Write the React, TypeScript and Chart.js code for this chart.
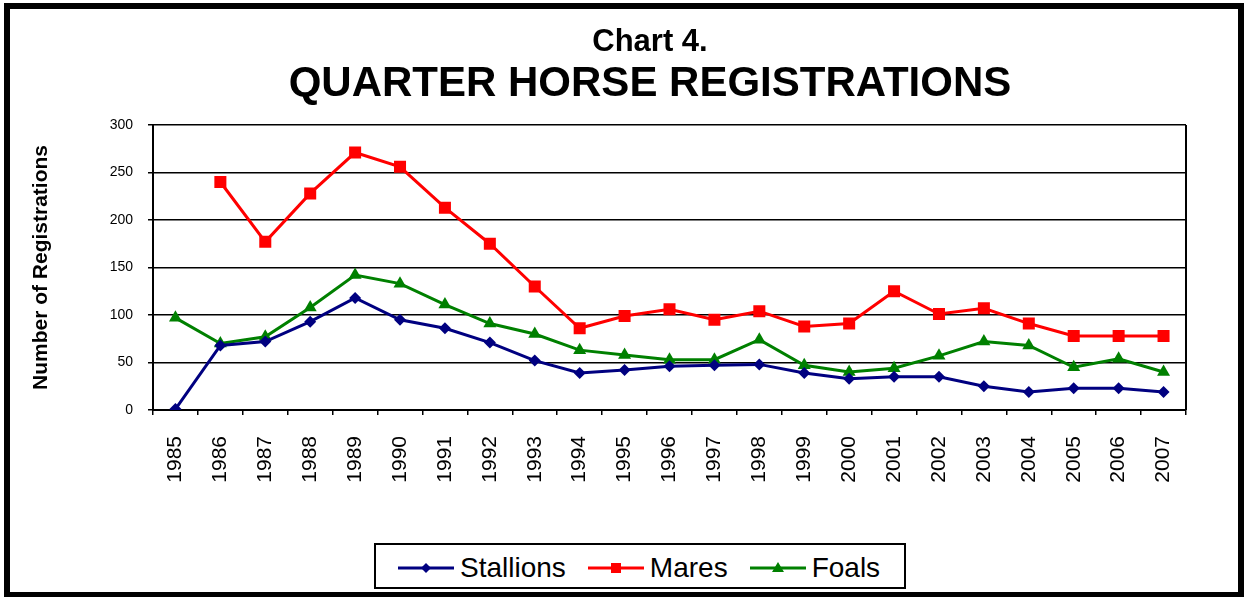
import React, { useEffect, useRef } from "react";
import { Chart, registerables } from "chart.js";

Chart.register(...registerables);

const years = [
  "1985", "1986", "1987", "1988", "1989", "1990", "1991", "1992", "1993", "1994", "1995", "1996",
  "1997", "1998", "1999", "2000", "2001", "2002", "2003", "2004", "2005", "2006", "2007",
];
const stallions = [1, 68, 72, 93, 118, 95, 86, 71, 52, 39, 42, 46, 47, 48, 39, 33, 35, 35, 25, 19, 23, 23, 19];
const mares = [null, 240, 177, 228, 271, 256, 213, 175, 130, 86, 99, 106, 95, 104, 88, 91, 125, 101, 107, 91, 78, 78, 78];
const foals = [97, 70, 77, 108, 142, 133, 111, 91, 80, 63, 58, 53, 53, 74, 47, 40, 44, 57, 72, 68, 45, 54, 40];
const yTicks = [0, 50, 100, 150, 200, 250, 300];

const titleLine1 = "Chart 4.";
const titleLine2 = "QUARTER HORSE REGISTRATIONS";
const yTitle = "Number of Registrations";

const FONT = "'Liberation Sans', Arial, Helvetica, sans-serif";

const seriesStyle = [
  { label: "Stallions", data: stallions, color: "#000080", pointStyle: "rectRot", radius: 6 },
  { label: "Mares", data: mares, color: "#FF0000", pointStyle: "rect", radius: 8.5 },
  { label: "Foals", data: foals, color: "#008000", pointStyle: "triangle", radius: 7.5 },
];

const framePlugin = {
  id: "plotFrame",
  afterDatasetsDraw(chart: any) {
    const { ctx, chartArea: a } = chart;
    ctx.save();
    ctx.strokeStyle = "#000";
    ctx.lineWidth = 2;
    ctx.beginPath();
    ctx.moveTo(a.right, a.top);
    ctx.lineTo(a.right, a.bottom);
    ctx.stroke();
    ctx.restore();
  },
};

function LegendSymbol({ color, shape }: { color: string; shape: string }) {
  let marker: any = null;
  if (shape === "rectRot") {
    marker = <polygon points="28,5 33,10 28,15 23,10" fill={color} />;
  } else if (shape === "rect") {
    marker = <rect x={23} y={5} width={10} height={10} fill={color} />;
  } else {
    marker = <polygon points="28,4 34,14 22,14" fill={color} />;
  }
  return (
    <svg width={56} height={20} style={{ display: "block" }}>
      <line x1={0} y1={10} x2={56} y2={10} stroke={color} strokeWidth={3} />
      {marker}
    </svg>
  );
}

export default function App() {
  const canvasRef = useRef<HTMLCanvasElement | null>(null);

  useEffect(() => {
    if (!canvasRef.current) return;
    const chart = new Chart(canvasRef.current, {
      type: "line",
      data: {
        labels: years,
        datasets: seriesStyle.map((s) => ({
          label: s.label,
          data: s.data as any,
          borderColor: s.color,
          backgroundColor: s.color,
          borderWidth: 3,
          pointStyle: s.pointStyle as any,
          pointRadius: s.radius,
          pointBackgroundColor: s.color,
          pointBorderColor: s.color,
          pointBorderWidth: 0,
          tension: 0,
          fill: false,
        })),
      },
      options: {
        responsive: false,
        maintainAspectRatio: false,
        animation: false,
        layout: { padding: { left: 25, right: 58, top: 125, bottom: 0 } },
        plugins: {
          legend: { display: false },
          title: { display: false },
          tooltip: { enabled: false },
        },
        scales: {
          x: {
            type: "category",
            offset: true,
            grid: {
              offset: true,
              drawOnChartArea: false,
              drawTicks: true,
              tickLength: 5,
              color: "#000",
              lineWidth: 1.5,
            },
            border: { display: true, color: "#000", width: 2 },
            ticks: {
              minRotation: 90,
              maxRotation: 90,
              autoSkip: false,
              padding: 21,
              color: "#000",
              font: { family: FONT, size: 21 },
            },
            afterFit: (s: any) => {
              s.height = 187;
            },
          },
          y: {
            min: 0,
            max: 300,
            afterBuildTicks: (s: any) => {
              s.ticks = yTicks.map((v) => ({ value: v }));
            },
            ticks: {
              padding: 15,
              color: "#000",
              font: { family: FONT, size: 14 },
            },
            grid: { color: "#000", lineWidth: 1.5, tickLength: 5, drawTicks: true },
            border: { color: "#000", width: 2 },
            title: {
              display: true,
              text: yTitle,
              color: "#000",
              font: { family: FONT, size: 21, weight: "bold" },
              padding: { top: 4, bottom: 4 },
            },
            afterFit: (s: any) => {
              s.width = 128;
            },
          },
        },
      },
      plugins: [framePlugin],
    });
    return () => chart.destroy();
  }, []);

  return (
    <div
      style={{
        position: "absolute",
        left: 0,
        top: 0,
        width: 1244,
        height: 597,
        overflow: "hidden",
        background: "#fff",
        fontFamily: FONT,
      }}
    >
      <canvas
        ref={canvasRef}
        width={1244}
        height={597}
        style={{ position: "absolute", left: 0, top: 0, width: 1244, height: 597 }}
      />
      <div
        style={{
          position: "absolute",
          left: 0,
          width: 1300,
          top: 24.5,
          textAlign: "center",
          fontWeight: "bold",
          fontSize: 31,
          lineHeight: "31px",
          color: "#000",
        }}
      >
        {titleLine1}
      </div>
      <div
        style={{
          position: "absolute",
          left: 0,
          width: 1300,
          top: 61,
          textAlign: "center",
          fontWeight: "bold",
          fontSize: 42,
          lineHeight: "42px",
          color: "#000",
          whiteSpace: "nowrap",
        }}
      >
        {titleLine2}
      </div>
      <div
        style={{
          position: "absolute",
          left: 374,
          top: 543,
          width: 532,
          height: 46,
          boxSizing: "border-box",
          border: "2px solid #000",
          background: "#fff",
          display: "flex",
          alignItems: "center",
          paddingLeft: 22,
          paddingTop: 4,
        }}
      >
        {seriesStyle.map((s, i) => (
          <div
            key={s.label}
            style={{ display: "flex", alignItems: "center", marginLeft: i === 0 ? 0 : 22 }}
          >
            <LegendSymbol color={s.color} shape={s.pointStyle} />
            <span style={{ marginLeft: 6, fontSize: 28, lineHeight: "30px", color: "#000" }}>
              {s.label}
            </span>
          </div>
        ))}
      </div>
      <div
        style={{
          position: "absolute",
          left: 4,
          top: 3,
          width: 1240,
          height: 595,
          boxSizing: "border-box",
          border: "6px solid #000",
          pointerEvents: "none",
        }}
      />
    </div>
  );
}
